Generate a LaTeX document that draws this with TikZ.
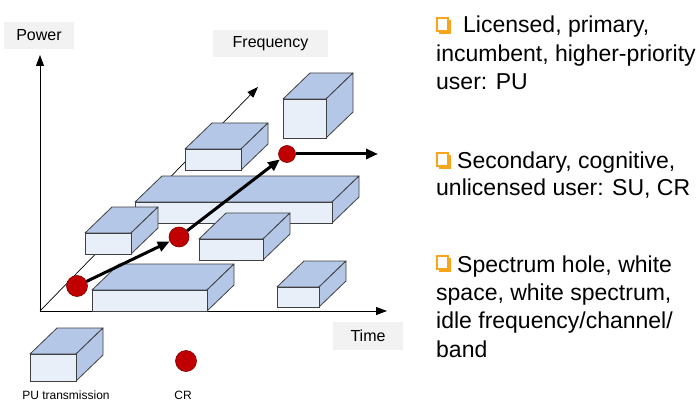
\documentclass[tikz,border=0pt]{standalone}
\usepackage{fontspec}
\setmainfont{Liberation Sans}
\usetikzlibrary{arrows.meta}
\definecolor{boxtop}{HTML}{B4C7E7}
\definecolor{boxfront}{HTML}{E9EFF8}
\definecolor{boxedge}{HTML}{404040}
\definecolor{crred}{HTML}{C00000}
\definecolor{crdark}{HTML}{7F0000}
\definecolor{lblgray}{HTML}{F2F2F2}
\definecolor{bulletorange}{HTML}{F7A51C}
\newcommand\cuboid[4]{%
  \filldraw[boxside] (#1,#2) -- ++(27,-26) -- ++(#3,0) -- ++(-27,26) -- cycle;
  \filldraw[boxside] ({#1+#3},#2) -- ++(27,-26) -- ++(0,#4) -- ++(-27,26) -- cycle;
  \filldraw[boxfrontface] (#1,#2) rectangle ++(#3,#4);
}
\newcommand\obullet[2]{%
  \fill[bulletorange] ({#1+2},{#2+2}) rectangle ++(12,14);
  \filldraw[draw=bulletorange, fill=white, line width=1.3pt] (#1,#2) rectangle ++(11,13);
}
\tikzset{
  boxside/.style={fill=boxtop, draw=boxedge, line width=0.8pt, line join=round},
  boxfrontface/.style={fill=boxfront, draw=boxedge, line width=0.8pt},
  crnode/.style={circle, fill=crred, draw=crdark, line width=0.6pt, inner sep=0pt},
  axislabel/.style={fill=lblgray, font=\fontsize{16}{18}\selectfont, inner sep=0pt},
  axisline/.style={line width=0.9pt, -{Triangle[length=11pt,width=8pt]}},
  thickarrow/.style={line width=3pt, -{Triangle[length=12pt,width=10pt]}},
  righttext/.style={anchor=base west, inner sep=0pt, font=\fontsize{23}{28}\selectfont},
  smalllabel/.style={font=\fontsize{12}{14}\selectfont, inner sep=0pt}
}
\begin{document}
\begin{tikzpicture}[x=1pt, y=-1pt]
\useasboundingbox (0,0) rectangle (696,401);
% axes
\coordinate (O) at (40,311);
\coordinate (Ptip) at (40,55);
\coordinate (Ttip) at (387,311);
\coordinate (Ftip) at (258,87);
\draw[line width=0.7pt, -{Triangle[length=11pt,width=8pt]}] (O) -- (Ftip);
\draw[axisline] (O) -- (Ptip);
\draw[axisline] (O) -- (Ttip);
% axis labels
\node[axislabel, minimum width=70pt, minimum height=27pt] (power) at (39,35.5) {Power};
\node[axislabel, minimum width=115pt, minimum height=27pt] (freq) at (270.5,43.5) {Frequency};
\node[axislabel, minimum width=70pt, minimum height=28pt] (time) at (368,336) {Time};
% PU boxes
\cuboid{283}{99}{43}{39}
\cuboid{185}{149}{56}{21}
\cuboid{135}{202}{197}{21}
\cuboid{85}{233}{46}{21}
\cuboid{199}{239}{64}{21}
\cuboid{92}{290}{115}{21}
\cuboid{277}{287}{42}{20}
% CR path
\node[crnode, minimum size=21pt] (c1) at (77,286) {};
\node[crnode, minimum size=20pt] (c2) at (179,237) {};
\node[crnode, minimum size=17pt] (c3) at (287,154) {};
\coordinate (cend) at (378,154);
\draw[thickarrow] (c1) -- (c2);
\draw[thickarrow] (c2) -- (c3);
\draw[thickarrow] (c3) -- (cend);
% legend
\cuboid{30}{354}{46}{27}
\node[crnode, minimum size=21pt] (lcr) at (186,361) {};
\node[smalllabel] (lpu) at (66,395) {PU transmission};
\node[smalllabel] (lcrt) at (183,395) {CR};
% right text
\obullet{437}{18}
\node[righttext] (t1a) at (463,33) {Licensed, primary,};
\node[righttext] (t1b) at (436,61.5) {incumbent, higher-priority};
\node[righttext] (t1c) at (436,90) {user: PU};
\obullet{437}{153}
\node[righttext] (t2a) at (457,168) {Secondary, cognitive,};
\node[righttext] (t2b) at (436,195) {unlicensed user: SU, CR};
\obullet{437}{256}
\node[righttext] (t3a) at (457,272) {Spectrum hole, white};
\node[righttext] (t3b) at (436,300) {space, white spectrum,};
\node[righttext] (t3c) at (436,328) {idle frequency/channel/};
\node[righttext] (t3d) at (436,357) {band};
\end{tikzpicture}
\end{document}
